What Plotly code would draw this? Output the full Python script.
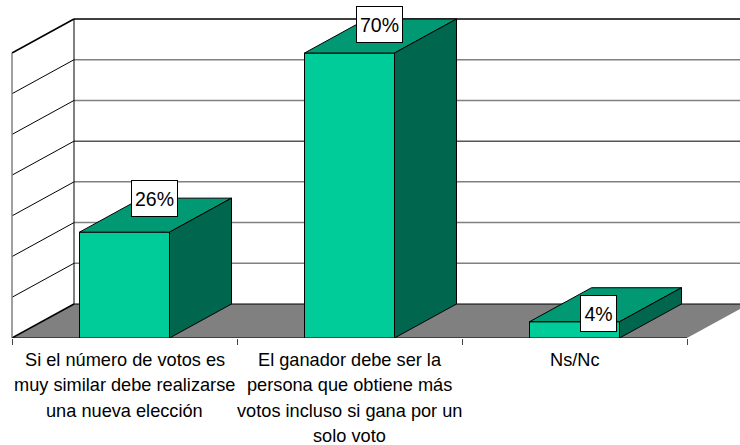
import plotly.graph_objects as go

# ---- data ----
category_lines = [
    ["Si el número de votos es", "muy similar debe realizarse", "una nueva elección"],
    ["El ganador debe ser la", "persona que obtiene más", "votos incluso si gana por un", "solo voto"],
    ["Ns/Nc"],
]
values = [26, 70, 4]
value_labels = ["26%", "70%", "4%"]
axis_ticks = [0, 10, 20, 30, 40, 50, 60, 70]

# ---- projection and style ----
W, H = 740, 445
FLOOR_Y = 338
CAT_PX = 225.0
PCT_PX = 4.071
LEFT_PX = 12
DX = 62 / CAT_PX
DY = 34 / PCT_PX
BAR_W = 0.4
FRONT, TOP, SIDE = "#00CC99", "#009973", "#00664D"
FONT = "Liberation Sans, Arial, sans-serif"
FS = 18.2
LABEL_FS = 19.5
LINE_PX = 25.3

x0 = -0.5
xr = [-(LEFT_PX + CAT_PX / 2) / CAT_PX, (W - LEFT_PX - CAT_PX / 2) / CAT_PX]
xr_end = 2.5
ymax = FLOOR_Y / PCT_PX
grid_colors = ["#000000", "#808080", "#808080", "#808080", "#000000", "#808080", "#808080", "#000000"]
grid_widths = [1, 1.5, 1.5, 1.5, 1, 1.5, 1.5, 1.5]
diag_widths = [1.5, 1, 1, 1, 1, 1, 1, 1.5]

shapes = []
def line(xa, ya, xb, yb, color="#000000", width=1):
    shapes.append(dict(type="line", xref="x", yref="y", x0=xa, y0=ya, x1=xb, y1=yb,
                       line=dict(color=color, width=width), layer="below"))

# floor
shapes.append(dict(type="path", xref="x", yref="y", layer="below", fillcolor="#808080", line=dict(width=0),
                   path=f"M{x0},0 L{x0+DX},{DY} L{xr_end+DX},{DY} L{xr_end},0 Z"))
# walls' gridlines
for t, c, gw, dw in zip(axis_ticks, grid_colors, grid_widths, diag_widths):
    line(x0 + DX, t + DY, xr[1] + 0.01, t + DY, c, gw)
    line(x0, t, x0 + DX, t + DY, "#000000", dw)
line(x0 + DX, DY, x0 + DX, axis_ticks[-1] + DY)
line(x0, 0, x0, axis_ticks[-1], "#808080", 1.5)
line(x0, 0, xr_end, 0)

fig = go.Figure()
cats = list(range(len(values)))

fig.add_trace(go.Bar(x=cats, y=values, width=BAR_W, marker=dict(color=FRONT, line=dict(color="#000000", width=1)),
                     showlegend=False, hoverinfo="skip"))

for c, v in zip(cats, values):
    l, r = c - BAR_W / 2, c + BAR_W / 2
    fig.add_trace(go.Scatter(x=[l, r, r + DX, l + DX, l], y=[v, v, v + DY, v + DY, v], mode="lines",
                             fill="toself", fillcolor=TOP, line=dict(color="#000000", width=1),
                             showlegend=False, hoverinfo="skip"))
    fig.add_trace(go.Scatter(x=[r, r + DX, r + DX, r, r], y=[0, DY, v + DY, v, 0], mode="lines",
                             fill="toself", fillcolor=SIDE, line=dict(color="#000000", width=1),
                             showlegend=False, hoverinfo="skip"))

annotations = []
label_shift_x = [30, 30, 24]
label_shift_y = [34, 29, 8]
label_box_w = [45, 45, 35]
for c, v, t, sx, sy, bw in zip(cats, values, value_labels, label_shift_x, label_shift_y, label_box_w):
    annotations.append(dict(x=c, y=v, xref="x", yref="y", text=t, showarrow=False, xshift=sx, yshift=sy,
                            xanchor="center", yanchor="middle", width=bw, height=35, align="center", valign="middle",
                            bgcolor="#FFFFFF", bordercolor="#000000", borderwidth=1, borderpad=0,
                            font=dict(family=FONT, size=LABEL_FS, color="#000000")))
for c, lines in zip(cats, category_lines):
    for i, t in enumerate(lines):
        annotations.append(dict(x=c, y=0, xref="x", yref="paper", text=t, showarrow=False,
                                xanchor="center", yanchor="middle", yshift=-(22 + LINE_PX * i),
                                font=dict(family=FONT, size=FS, color="#000000")))

fig.update_layout(
    width=W, height=H, margin=dict(l=0, r=0, t=0, b=H - FLOOR_Y, pad=0),
    paper_bgcolor="#FFFFFF", plot_bgcolor="#FFFFFF", shapes=shapes, annotations=annotations,
    font=dict(family=FONT, size=FS), showlegend=False, hovermode=False,
    xaxis=dict(range=xr, showgrid=False, zeroline=False, showline=False, ticks="", showticklabels=False,
               tickvals=cats,
               minor=dict(tickmode="array", tickvals=[x0, 0.5, 1.5, xr_end], ticks="outside", ticklen=6,
                          tickwidth=1, tickcolor="#444444", showgrid=False)),
    yaxis=dict(range=[0, ymax], visible=False),
)
fig.write_html("out.html", config=dict(displayModeBar=False),
               post_script="document.body.style.margin='0';document.documentElement.style.overflow='hidden';")
